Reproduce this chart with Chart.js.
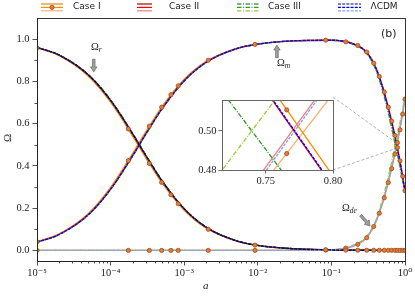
<!DOCTYPE html>
<html lang="en">
<head>
<meta charset="UTF-8">
<title>Density parameters vs scale factor</title>
<script src="https://cdn.jsdelivr.net/npm/chart.js"></script>
<style>
    * { margin: 0; padding: 0; box-sizing: border-box; }
    body { width: 415px; height: 297px; background: #fff; position: relative; overflow: hidden; }
    #main { position: absolute; left: 0; top: 0; }
    #inset { position: absolute; }
    .leg-icon { position: absolute; top: 0; }
    .leg-text { position: absolute; top: 1px; font: 9px 'DejaVu Sans', sans-serif; color: #222; white-space: nowrap; }
    .note { position: absolute; font-family: 'Liberation Serif', serif; font-size: 10.5px; color: #222; }
    .note sub { font-style: italic; font-size: 7.5px; vertical-align: -2px; }
    #panel { position: absolute; left: 381px; top: 27px; font: 11px 'DejaVu Sans', sans-serif; color: #222; }
    #xtitle { position: absolute; left: 203px; top: 279px; font: italic 11px 'Liberation Serif', serif; color: #222; }
    #ytitle { position: absolute; left: 3px; top: 132px; font: 11px 'Liberation Serif', serif; color: #222; transform: rotate(-90deg); }
</style>
</head>
<body>
<canvas id="main" width="415" height="297"></canvas>
<canvas id="inset"></canvas>
<div id="legend"></div>
<span class="note" style="left:91px; top:41px">Ω<sub>r</sub></span>
<span class="note" style="left:277px; top:57px">Ω<sub>m</sub></span>
<span class="note" style="left:342px; top:202px">Ω<sub>de</sub></span>
<span id="panel">(b)</span>
<span id="xtitle">a</span>
<span id="ytitle">Ω</span>

<script>
// scale factor grid shared by every curve
const aGrid = [1e-5, 2e-5, 5e-5, 1e-4, 2e-4, 3e-4, 5e-4, 1e-3, 2e-3, 5e-3, 1e-2, 3e-2,
               0.1, 0.2, 0.3, 0.4, 0.5, 0.6, 0.7, 0.75, 0.8, 0.85, 0.9, 0.95, 1.0];

// Case I
const caseI_r  = [0.9592, 0.9216, 0.8246, 0.7015, 0.5402, 0.4393, 0.3197, 0.1903, 0.1052, 0.0449, 0.0230, 0.0078,
                  0.0023, 0.0012, 0.0008, 0.0006, 0.0005, 0.0004, 0.0003, 0.0003, 0.0002, 0.0002, 0.0002, 0.0001, 0.0001];
const caseI_m  = [0.0408, 0.0784, 0.1754, 0.2985, 0.4598, 0.5607, 0.6803, 0.8097, 0.8948, 0.9551, 0.9770, 0.9921,
                  0.9947, 0.978, 0.940, 0.868, 0.773, 0.671, 0.573, 0.526, 0.477, 0.429, 0.380, 0.331, 0.282];
const caseI_de = [0, 0, 0, 0, 0, 0, 0, 0, 0, 0, 0, 0.0001,
                  0.003, 0.021, 0.059, 0.131, 0.226, 0.328, 0.427, 0.4745, 0.519, 0.566, 0.615, 0.665, 0.716];

// Case II
const caseII_r  = [0.9610, 0.9245, 0.8305, 0.7100, 0.5506, 0.4496, 0.3288, 0.1968, 0.1091, 0.0467, 0.0239, 0.0081,
                   0.0024, 0.0012, 0.0008, 0.0006, 0.0005, 0.0004, 0.0003, 0.0003, 0.0002, 0.0002, 0.0002, 0.0001, 0.0001];
const caseII_m  = [0.0390, 0.0755, 0.1695, 0.2900, 0.4494, 0.5504, 0.6712, 0.8032, 0.8909, 0.9533, 0.9761, 0.9918,
                   0.9946, 0.977, 0.937, 0.864, 0.768, 0.666, 0.568, 0.5205, 0.4715, 0.423, 0.375, 0.326, 0.277];
const caseII_de = [0, 0, 0, 0, 0, 0, 0, 0, 0, 0, 0, 0.0001,
                   0.003, 0.022, 0.062, 0.136, 0.232, 0.334, 0.433, 0.4815, 0.5285, 0.577, 0.625, 0.674, 0.723];

// Case III
const caseIII_r  = [0.9612, 0.9254, 0.8322, 0.7127, 0.5536, 0.4526, 0.3316, 0.1987, 0.1103, 0.0473, 0.0242, 0.0082,
                    0.0024, 0.0012, 0.0008, 0.0006, 0.0005, 0.0004, 0.0003, 0.0003, 0.0002, 0.0002, 0.0002, 0.0001, 0.0001];
const caseIII_m  = [0.0388, 0.0746, 0.1678, 0.2873, 0.4464, 0.5474, 0.6684, 0.8013, 0.8897, 0.9527, 0.9758, 0.9917,
                    0.9945, 0.974, 0.933, 0.857, 0.752, 0.643, 0.537, 0.4905, 0.445, 0.400, 0.356, 0.313, 0.272];
const caseIII_de = [0, 0, 0, 0, 0, 0, 0, 0, 0, 0, 0, 0.0001,
                    0.003, 0.025, 0.066, 0.142, 0.247, 0.356, 0.463, 0.5095, 0.555, 0.600, 0.644, 0.687, 0.728];

// LCDM
const lcdm_r  = [0.9610, 0.9245, 0.8305, 0.7100, 0.5506, 0.4496, 0.3288, 0.1968, 0.1091, 0.0467, 0.0239, 0.0081,
                 0.0024, 0.0012, 0.0008, 0.0006, 0.0005, 0.0004, 0.0003, 0.0003, 0.0002, 0.0002, 0.0002, 0.0001, 0.0001];
const lcdm_m  = [0.0390, 0.0755, 0.1695, 0.2900, 0.4494, 0.5504, 0.6712, 0.8032, 0.8909, 0.9533, 0.9761, 0.9918,
                 0.9946, 0.977, 0.938, 0.865, 0.769, 0.667, 0.569, 0.521, 0.472, 0.424, 0.376, 0.327, 0.279];
const lcdm_de = [0, 0, 0, 0, 0, 0, 0, 0, 0, 0, 0, 0.0001,
                 0.003, 0.022, 0.061, 0.134, 0.230, 0.332, 0.431, 0.4795, 0.527, 0.575, 0.623, 0.672, 0.720];

// Case I markers (main panel)
const markA  = [1e-5, 1.74e-4, 3.36e-4, 4.94e-4, 6.6e-4, 8.3e-4, 2.12e-3, 9.17e-3, 0.0837, 0.157, 0.228,
                0.302, 0.376, 0.448, 0.523, 0.593, 0.659, 0.731, 0.79, 0.855, 0.93, 1.0];
const markR  = [0.959, 0.575, 0.412, 0.322, 0.263, 0.221, 0.100, 0.025, 0.003, 0.0015, 0.001,
                0.0008, 0.0006, 0.0005, 0.0005, 0.0004, 0.0003, 0.0003, 0.0002, 0.0001, 0.0001, 0.0001];
const markM  = [0.041, 0.425, 0.588, 0.678, 0.737, 0.779, 0.900, 0.975, 0.995, 0.987, 0.970,
                0.939, 0.886, 0.823, 0.750, 0.678, 0.612, 0.544, 0.487, 0.424, 0.351, 0.282];
const markDe = [0, 0, 0, 0, 0, 0, 0, 0, 0.002, 0.011, 0.029,
                0.060, 0.113, 0.176, 0.249, 0.321, 0.387, 0.456, 0.510, 0.571, 0.645, 0.716];

// Case I markers (inset)
const insetMarkA  = [0.7656];
const insetMarkM  = [0.5107];
const insetMarkDe = [0.4884];

// axes
const xTicks = [1e-5, 1e-4, 1e-3, 1e-2, 1e-1, 1];
const yTicks = [0, 0.2, 0.4, 0.6, 0.8, 1.0];
const yMinor = [0.1, 0.3, 0.5, 0.7, 0.9];
const zoomX = [0.7175, 0.80];
const zoomY = [0.48, 0.5156];
const insetXTicks = [0.75, 0.80];
const insetYTicks = [0.48, 0.50];

// inset plot box in page pixels
const INSET = { left: 222, top: 97, right: 333, bottom: 170 };

const models = [
    { label: 'Case I',   r: caseI_r,   m: caseI_m,   de: caseI_de,   colors: ['#e8870e', '#ff8c00', '#ffb070'], dash: [],                order: 4 },
    { label: 'Case II',  r: caseII_r,  m: caseII_m,  de: caseII_de,  colors: ['#b00000', '#ff0000', '#f08080'], dash: [],                order: 3 },
    { label: 'Case III', r: caseIII_r, m: caseIII_m, de: caseIII_de, colors: ['#006400', '#2a9a2a', '#9acd32'], dash: [4.5, 1.5, 1, 1.5], order: 2 },
    { label: 'ΛCDM',     r: lcdm_r,    m: lcdm_m,    de: lcdm_de,    colors: ['#00008b', '#0000ff', '#7fa6f0'], dash: [3, 1.2],          order: 1 }
];
const legendPos = [
    { icon: 40.7, w: 22, text: 73 },
    { icon: 136.7, w: 15, text: 169 },
    { icon: 236.7, w: 23, text: 268 },
    { icon: 338, w: 23, text: 370.5 }
];
const MARK_FILL = '#e47c3c', MARK_EDGE = '#9a4a18';
const LINE_W = 1.35;

Chart.defaults.font.family = "'Liberation Serif', 'DejaVu Serif', serif";
Chart.defaults.color = '#222';

const SUP = { '-': '⁻', '0': '⁰', '1': '¹', '2': '²', '3': '³', '4': '⁴', '5': '⁵' };
const powLabel = v => '10' + String(Math.round(Math.log10(v))).split('').map(c => SUP[c]).join('');

function lineSet(xs, ys, color, dash, order) {
    return {
        data: xs.map((x, i) => ({ x, y: ys[i] })),
        borderColor: color, borderWidth: LINE_W, borderDash: dash,
        pointRadius: 0, cubicInterpolationMode: 'monotone', order
    };
}
function markerSet(xs, ys) {
    return {
        data: xs.map((x, i) => ({ x, y: ys[i] })),
        showLine: false, pointRadius: 2.1, pointBorderWidth: 0.8,
        pointBackgroundColor: MARK_FILL, pointBorderColor: MARK_EDGE, order: 0
    };
}

function fatArrow(ctx, x0, y0, x1, y1) {
    const ang = Math.atan2(y1 - y0, x1 - x0), len = Math.hypot(x1 - x0, y1 - y0);
    ctx.save();
    ctx.translate(x0, y0);
    ctx.rotate(ang);
    ctx.beginPath();
    ctx.moveTo(0, -1.3);
    ctx.lineTo(len - 5, -1.3);
    ctx.lineTo(len - 5, -3.2);
    ctx.lineTo(len, 0);
    ctx.lineTo(len - 5, 3.2);
    ctx.lineTo(len - 5, 1.3);
    ctx.lineTo(0, 1.3);
    ctx.closePath();
    ctx.fillStyle = '#a0a0a0';
    ctx.fill();
    ctx.strokeStyle = '#555';
    ctx.lineWidth = 0.6;
    ctx.stroke();
    ctx.restore();
}

// arrows pointing at the curves, in data coordinates
const arrows = [
    { from: [5.9e-5, 0.905], to: [5.9e-5, 0.845] },
    { from: [0.0182, 0.912], to: [0.0182, 0.972] },
    { from: [0.25, 0.166],  to: [0.335, 0.116] }
];

// minor ticks, full frame, inset connectors and arrows
const mainDeco = {
    id: 'mainDeco',
    beforeDatasetsDraw(chart) {
        const { ctx, scales: { x, y } } = chart;
        const x0 = x.getPixelForValue(zoomX[0]), x1 = x.getPixelForValue(zoomX[1]);
        const yT = y.getPixelForValue(zoomY[1]), yB = y.getPixelForValue(zoomY[0]);
        ctx.save();
        ctx.strokeStyle = '#999';
        ctx.lineWidth = 0.8;
        ctx.setLineDash([3, 2]);
        ctx.beginPath();
        ctx.moveTo(INSET.right, INSET.top); ctx.lineTo(x0, yT);
        ctx.moveTo(INSET.right, INSET.bottom); ctx.lineTo(x0, yB);
        ctx.stroke();
        ctx.setLineDash([]);
        ctx.strokeRect(x0, yT, x1 - x0, yB - yT);
        ctx.restore();
    },
    afterDraw(chart) {
        const { ctx, chartArea: ca, scales: { x, y } } = chart;
        ctx.save();
        ctx.strokeStyle = '#222';
        ctx.lineWidth = 0.8;
        ctx.beginPath();
        for (let e = -5; e < 0; e++) {
            for (let k = 2; k <= 9; k++) {
                const px = Math.round(x.getPixelForValue(k * Math.pow(10, e))) + 0.5;
                ctx.moveTo(px, ca.bottom); ctx.lineTo(px, ca.bottom + 2.5);
            }
        }
        yMinor.forEach(v => {
            const py = Math.round(y.getPixelForValue(v)) + 0.5;
            ctx.moveTo(ca.left, py); ctx.lineTo(ca.left - 2.5, py);
        });
        ctx.stroke();
        ctx.lineWidth = 0.9;
        ctx.strokeRect(Math.round(ca.left) + 0.5, Math.round(ca.top) + 0.5,
                       Math.round(ca.right - ca.left), Math.round(ca.bottom - ca.top));
        ctx.restore();
        arrows.forEach(a => fatArrow(ctx,
            x.getPixelForValue(a.from[0]), y.getPixelForValue(a.from[1]),
            x.getPixelForValue(a.to[0]), y.getPixelForValue(a.to[1])));
    }
};

const mainSets = [];
models.forEach(md => {
    mainSets.push(lineSet(aGrid, md.r, md.colors[0], md.dash, md.order));
    mainSets.push(lineSet(aGrid, md.m, md.colors[1], md.dash, md.order));
    mainSets.push(lineSet(aGrid, md.de, md.colors[2], md.dash, md.order));
});
mainSets.push(markerSet(markA, markR), markerSet(markA, markM), markerSet(markA, markDe));

new Chart(document.getElementById('main'), {
    type: 'line',
    data: { datasets: mainSets },
    options: {
        responsive: false, animation: false, devicePixelRatio: 1,
        layout: { padding: { top: 18, right: 10, left: 0, bottom: 0 } },
        plugins: { legend: { display: false }, tooltip: { enabled: false } },
        scales: {
            x: {
                type: 'logarithmic', min: 1e-5, max: 1,
                afterBuildTicks: s => { s.ticks = xTicks.map(v => ({ value: v })); },
                afterFit: s => { s.height = 36; },
                ticks: { callback: v => powLabel(v), font: { size: 10.5 }, padding: 1, maxRotation: 0, autoSkip: false },
                grid: { drawOnChartArea: false, tickLength: 4.5, color: '#222', lineWidth: 0.8 },
                border: { color: '#222', width: 0.9 }
            },
            y: {
                min: -0.05, max: 1.1,
                afterBuildTicks: s => { s.ticks = yTicks.map(v => ({ value: v })); },
                afterFit: s => { s.width = 37; },
                ticks: { callback: v => v.toFixed(1), font: { size: 10.5 }, padding: 3 },
                grid: { drawOnChartArea: false, tickLength: 4.5, color: '#222', lineWidth: 0.8 },
                border: { color: '#222', width: 0.9 }
            }
        }
    },
    plugins: [mainDeco]
});

// zoomed inset around the matter / dark energy crossing
const insetDeco = {
    id: 'insetDeco',
    beforeDatasetsDraw(chart) {
        const { ctx, chartArea: ca } = chart;
        ctx.save();
        ctx.fillStyle = '#fff';
        ctx.fillRect(ca.left, ca.top, ca.right - ca.left, ca.bottom - ca.top);
        ctx.restore();
    },
    afterDraw(chart) {
        const { ctx, chartArea: ca } = chart;
        ctx.save();
        ctx.strokeStyle = '#666';
        ctx.lineWidth = 1;
        ctx.strokeRect(Math.round(ca.left) + 0.5, Math.round(ca.top) + 0.5,
                       Math.round(ca.right - ca.left), Math.round(ca.bottom - ca.top));
        ctx.restore();
    }
};

const insetCanvas = document.getElementById('inset');
const insetPad = { left: 34, top: 5, right: 17, bottom: 22 };
insetCanvas.width = insetPad.left + (INSET.right - INSET.left) + insetPad.right;
insetCanvas.height = insetPad.top + (INSET.bottom - INSET.top) + insetPad.bottom;
insetCanvas.style.left = (INSET.left - insetPad.left) + 'px';
insetCanvas.style.top = (INSET.top - insetPad.top) + 'px';

const insetSets = [];
models.forEach(md => {
    insetSets.push(lineSet(aGrid, md.m, md.colors[1], md.dash, md.order));
    insetSets.push(lineSet(aGrid, md.de, md.colors[2], md.dash, md.order));
});
insetSets.push(markerSet(insetMarkA, insetMarkM), markerSet(insetMarkA, insetMarkDe));

new Chart(insetCanvas, {
    type: 'line',
    data: { datasets: insetSets },
    options: {
        responsive: false, animation: false, devicePixelRatio: 1,
        layout: { padding: { top: insetPad.top, right: insetPad.right, left: 0, bottom: 0 } },
        plugins: { legend: { display: false }, tooltip: { enabled: false } },
        scales: {
            x: {
                type: 'linear', min: zoomX[0], max: zoomX[1],
                afterBuildTicks: s => { s.ticks = insetXTicks.map(v => ({ value: v })); },
                afterFit: s => { s.height = insetPad.bottom; },
                ticks: { callback: v => v.toFixed(2), font: { size: 10.5 }, padding: 1, maxRotation: 0 },
                grid: { drawOnChartArea: false, tickLength: 3.5, color: '#444', lineWidth: 0.8 },
                border: { color: '#666', width: 1 }
            },
            y: {
                min: zoomY[0], max: zoomY[1],
                afterBuildTicks: s => { s.ticks = insetYTicks.map(v => ({ value: v })); },
                afterFit: s => { s.width = insetPad.left; },
                ticks: { callback: v => v.toFixed(2), font: { size: 10.5 }, padding: 2 },
                grid: { drawOnChartArea: false, tickLength: 3.5, color: '#444', lineWidth: 0.8 },
                border: { color: '#666', width: 1 }
            }
        }
    },
    plugins: [insetDeco]
});

// legend: three stacked lines per model (Omega_r, Omega_m, Omega_de)
const legend = document.getElementById('legend');
models.forEach((md, i) => {
    const p = legendPos[i];
    const ys = [4, 7.4, 10.8];
    let svg = `<svg class="leg-icon" style="left:${p.icon}px" width="${p.w}" height="14">`;
    md.colors.forEach((c, j) => {
        svg += `<line x1="0" x2="${p.w}" y1="${ys[j]}" y2="${ys[j]}" stroke="${c}" stroke-width="1.2"` +
               (md.dash.length ? ` stroke-dasharray="${md.dash.join(',')}"` : '') + '/>';
    });
    if (i === 0) svg += `<circle cx="${p.w / 2}" cy="${ys[1]}" r="2.1" fill="${MARK_FILL}" stroke="${MARK_EDGE}" stroke-width="0.8"/>`;
    svg += '</svg>';
    legend.insertAdjacentHTML('beforeend', svg + `<span class="leg-text" style="left:${p.text}px">${md.label}</span>`);
});
</script>
</body>
</html>
